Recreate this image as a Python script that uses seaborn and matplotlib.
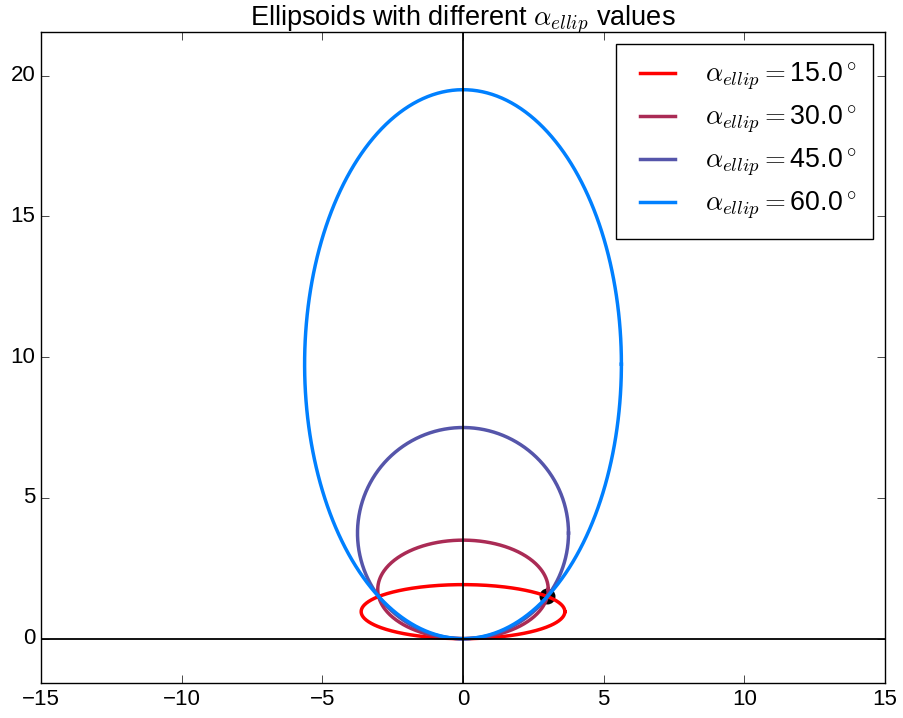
import numpy as np
import pandas as pd
import matplotlib
matplotlib.use("Agg")
import matplotlib.pyplot as plt
import seaborn as sns

# Data
alphas = [15.0, 30.0, 45.0, 60.0]                 # alpha_ellip in degrees
semi_x = [3.62, 3.03, 3.75, 5.63]                 # horizontal semi-axis
semi_y = [0.96, 1.75, 3.75, 9.75]                 # vertical semi-axis (centre height)
colors = ["#FF0000", "#AA2B55", "#5555AA", "#0080FF"]
point_x = [3.0]
point_y = [1.5]
xticks = [-15, -10, -5, 0, 5, 10, 15]
yticks = [0, 5, 10, 15, 20]

plt.style.use("classic")
plt.rcParams["font.family"] = ["Liberation Sans", "DejaVu Sans"]
plt.rcParams["mathtext.fontset"] = "cm"
plt.rcParams["font.size"] = 16

fig = plt.figure(figsize=(9.04, 7.18), dpi=100, facecolor="white")
ax = fig.add_axes([41 / 904, (718 - 683.3) / 718, 844 / 904, 651.6 / 718])
ax.set_facecolor("white")

t = np.linspace(0, 2 * np.pi, 400)
for al, a, b, c in zip(alphas, semi_x, semi_y, colors):
    df = pd.DataFrame({"x": a * np.cos(t), "y": b + b * np.sin(t)})
    sns.lineplot(data=df, x="x", y="y", sort=False, estimator=None, ax=ax,
                 color=c, lw=2.5, label=r"$\alpha_{ellip}=$" + f"{al:.1f}" + r"$^\circ$")

ax.scatter(point_x, point_y, s=110, color="black", zorder=1.5)
ax.axhline(0, color="black", lw=1.3)
ax.axvline(0, color="black", lw=1.3)

ax.set_xlim(-15, 15)
ax.set_ylim(-1.585, 21.56)
ax.set_xticks(xticks)
ax.set_yticks(yticks)
ax.set_xlabel("")
ax.set_ylabel("")
ax.tick_params(direction="in", length=6, labelsize=16, top=True, right=True)
ax.set_title(r"Ellipsoids with different $\alpha_{ellip}$ values", fontsize=19.5, pad=4)

leg = ax.legend(loc="upper right", fontsize=19.3, handlelength=1.9, handletextpad=0.8,
                labelspacing=0.4, borderpad=0.62, borderaxespad=0.45,
                fancybox=False, frameon=True)
leg.get_frame().set_edgecolor("black")
leg.get_frame().set_linewidth(1.0)

fig.savefig("out.png", dpi=100, facecolor="white")
